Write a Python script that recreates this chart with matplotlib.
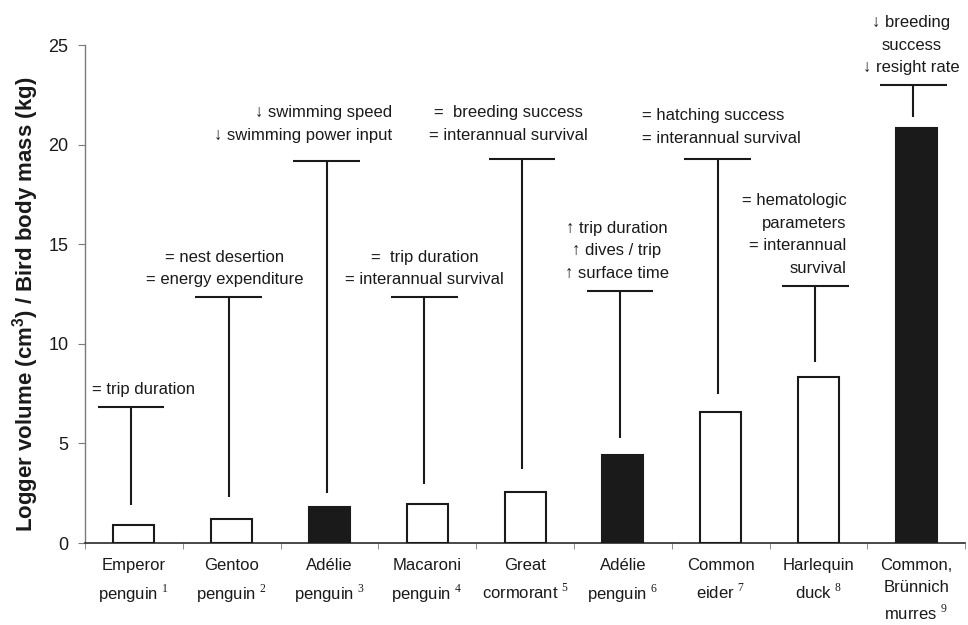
import matplotlib
matplotlib.use('Agg')
import matplotlib.pyplot as plt
import numpy as np

# --- data ---
species = ["Emperor\npenguin", "Gentoo\npenguin", "Adélie\npenguin", "Macaroni\npenguin",
           "Great\ncormorant", "Adélie\npenguin", "Common\neider", "Harlequin\nduck",
           "Common,\nBrünnich\nmurres"]
refs = [1, 2, 3, 4, 5, 6, 7, 8, 9]
ratio = [0.9, 1.22, 1.8, 1.97, 2.54, 4.43, 6.56, 8.35, 20.84]
range_low = [1.9, 2.29, 2.49, 2.96, 3.7, 5.27, 7.48, 9.1, 21.41]
range_high = [6.84, 12.33, 19.2, 12.33, 19.28, 12.66, 19.28, 12.91, 22.98]
filled = [False, False, True, False, False, True, False, False, True]
effects = [
    "= trip duration",
    "= nest desertion\n= energy expenditure",
    "↓ swimming speed\n↓ swimming power input",
    "=  trip duration\n= interannual survival",
    "=  breeding success\n= interannual survival",
    "↑ trip duration\n↑ dives / trip\n↑ surface time",
    "= hatching success\n= interannual survival",
    "= hematologic\nparameters\n= interannual\nsurvival",
    "↓ breeding\nsuccess\n↓ resight rate",
]

# text placement relative to the top of each range line (pixels, alignment)
text_dx = [13, -4, 66, 0, -14, -3, -76, 31, -2]
text_dy = [10, 10, 18, 10, 16, 10, 13, 10, 10]
text_ha = ['center', 'center', 'right', 'center', 'center', 'center', 'left', 'right', 'center']

plt.rcParams['font.family'] = ['Liberation Sans', 'DejaVu Sans']
plt.rcParams['mathtext.fontset'] = 'custom'
plt.rcParams['mathtext.rm'] = 'Liberation Serif'
plt.rcParams['mathtext.bf'] = 'Liberation Sans:bold'

TXT = '#1a1a1a'
GRAY = '#7a7a7a'

fig = plt.figure(figsize=(9.68, 6.25), dpi=100)
ax = fig.add_axes([0.0878, 0.1312, 0.9092, 0.7968])

x = np.arange(len(species))
face = ['#1a1a1a' if f else 'white' for f in filled]
ax.bar(x, ratio, width=0.42, color=face, edgecolor='#1a1a1a', linewidth=1.5, zorder=3)

xr = x - 0.03
ax.vlines(xr, range_low, range_high, color='#1a1a1a', linewidth=1.5)
ax.hlines(range_high, xr - 0.34, xr + 0.34, color='#1a1a1a', linewidth=1.5)

for i, txt in enumerate(effects):
    ax.annotate(txt, xy=(xr[i], range_high[i]), xytext=(text_dx[i], text_dy[i]),
                textcoords='offset pixels', ha=text_ha[i], va='bottom',
                multialignment=text_ha[i], fontsize=12, color=TXT,
                linespacing=1.63, annotation_clip=False)

ax.set_xlim(-0.5, len(species) - 0.5)
ax.set_ylim(0, 25)
ax.set_yticks([0, 5, 10, 15, 20, 25])

labels = []
for name, r in zip(species, refs):
    labels.append(name + ' $^{%d}$' % r)
ax.set_xticks(x)
ax.set_xticklabels(labels, fontsize=12, color=TXT, linespacing=1.55)
ax.set_xticks(np.arange(len(species) + 1) - 0.5, minor=True)
ax.tick_params(axis='x', which='major', length=0, pad=11)
ax.tick_params(axis='x', which='minor', length=4, color=GRAY, direction='out')
ax.tick_params(axis='y', length=5, color=GRAY, labelsize=13, labelcolor=TXT, pad=7)

for s in ['top', 'right']:
    ax.spines[s].set_visible(False)
ax.spines['left'].set_color(GRAY)
ax.spines['left'].set_linewidth(1.0)
ax.spines['bottom'].set_color('#2a2a2a')
ax.spines['bottom'].set_linewidth(1.2)

fig.text(0.026, 0.5136, r'Logger volume (cm$^{\mathbf{3}}$) / Bird body mass (kg)',
         rotation=90, ha='center', va='center', fontsize=16, fontweight='bold', color=TXT)

fig.savefig('out.png', dpi=100)
plt.close(fig)
